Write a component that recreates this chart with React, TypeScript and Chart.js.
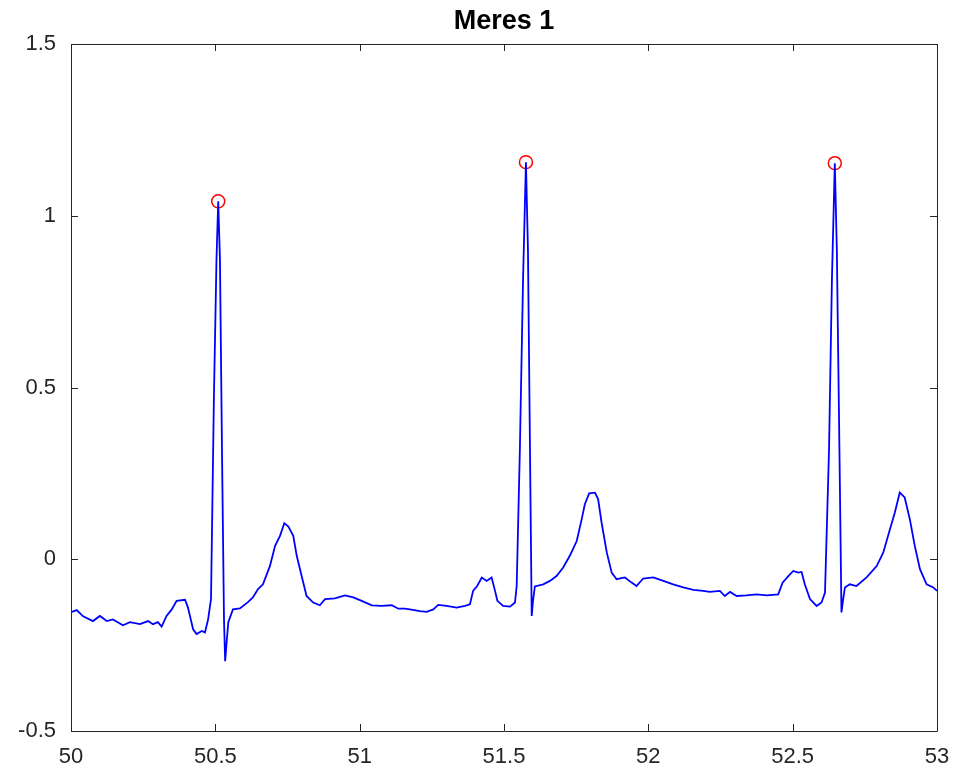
import React, { useEffect, useRef } from "react";
import { Chart, registerables } from "chart.js";

Chart.register(...registerables);

const chartTitle = "Meres 1";

// time (s)
const timeSec = [
  50.000, 50.020, 50.042, 50.076, 50.100, 50.124, 50.145, 50.180, 50.204, 50.239,
  50.267, 50.284, 50.301, 50.314, 50.331, 50.349, 50.366, 50.395, 50.405, 50.423,
  50.435, 50.453, 50.464, 50.475, 50.485, 50.495, 50.504, 50.510, 50.516, 50.523,
  50.530, 50.534, 50.540, 50.545, 50.561, 50.585, 50.613, 50.630, 50.648, 50.665,
  50.689, 50.707, 50.724, 50.739, 50.753, 50.770, 50.782, 50.799, 50.816, 50.839,
  50.862, 50.880, 50.914, 50.949, 50.978, 51.007, 51.042, 51.076, 51.111, 51.134,
  51.157, 51.174, 51.209, 51.232, 51.255, 51.272, 51.301, 51.336, 51.365, 51.382,
  51.393, 51.407, 51.423, 51.440, 51.457, 51.469, 51.477, 51.497, 51.521, 51.538,
  51.544, 51.555, 51.566, 51.576, 51.583, 51.590, 51.596, 51.600, 51.607, 51.636,
  51.659, 51.682, 51.705, 51.728, 51.752, 51.769, 51.780, 51.795, 51.815, 51.826,
  51.838, 51.856, 51.873, 51.890, 51.919, 51.942, 51.959, 51.982, 52.017, 52.052,
  52.086, 52.121, 52.156, 52.190, 52.213, 52.248, 52.265, 52.283, 52.306, 52.340,
  52.375, 52.410, 52.450, 52.465, 52.485, 52.502, 52.519, 52.531, 52.542, 52.560,
  52.583, 52.600, 52.612, 52.626, 52.636, 52.646, 52.653, 52.662, 52.669, 52.675,
  52.681, 52.698, 52.721, 52.756, 52.791, 52.814, 52.837, 52.854, 52.871, 52.888,
  52.906, 52.923, 52.941, 52.964, 52.987, 53.000,
];

// ECG amplitude
const ecgAmplitude = [
  -0.154, -0.148, -0.166, -0.180, -0.165, -0.180, -0.175, -0.192, -0.183, -0.189,
  -0.180, -0.189, -0.183, -0.196, -0.165, -0.146, -0.121, -0.118, -0.140, -0.204,
  -0.218, -0.209, -0.213, -0.175, -0.116, 0.466, 0.873, 1.042, 0.873, 0.320,
  -0.175, -0.297, -0.233, -0.183, -0.146, -0.143, -0.125, -0.111, -0.087, -0.073,
  -0.020, 0.039, 0.068, 0.105, 0.095, 0.068, 0.010, -0.049, -0.107, -0.126,
  -0.134, -0.116, -0.114, -0.105, -0.111, -0.121, -0.134, -0.136, -0.134, -0.144,
  -0.144, -0.146, -0.151, -0.153, -0.146, -0.133, -0.136, -0.141, -0.136, -0.131,
  -0.092, -0.078, -0.053, -0.063, -0.053, -0.092, -0.121, -0.136, -0.138, -0.126,
  -0.078, 0.320, 0.815, 1.156, 0.902, 0.320, -0.165, -0.125, -0.079, -0.073,
  -0.063, -0.049, -0.024, 0.010, 0.053, 0.116, 0.160, 0.192, 0.194, 0.175,
  0.107, 0.020, -0.039, -0.058, -0.053, -0.068, -0.078, -0.056, -0.053, -0.063,
  -0.073, -0.082, -0.089, -0.092, -0.095, -0.092, -0.107, -0.095, -0.107, -0.105,
  -0.102, -0.105, -0.102, -0.068, -0.049, -0.034, -0.039, -0.037, -0.073, -0.116,
  -0.136, -0.126, -0.097, 0.320, 0.815, 1.153, 0.902, 0.320, -0.155, -0.116,
  -0.082, -0.073, -0.078, -0.053, -0.020, 0.020, 0.087, 0.136, 0.194, 0.180,
  0.116, 0.039, -0.029, -0.073, -0.082, -0.092,
];

// detected R peaks
const peakTimes = [50.510, 51.576, 52.646];
const peakValues = [1.042, 1.156, 1.153];

const xTickValues = [50, 50.5, 51, 51.5, 52, 52.5, 53];
const xTickLabels = ["50", "50.5", "51", "51.5", "52", "52.5", "53"];
const yTickValues = [-0.5, 0, 0.5, 1, 1.5];
const yTickLabels = ["-0.5", "0", "0.5", "1", "1.5"];

const FONT = "'Liberation Sans', Arial, Helvetica, sans-serif";
const AXIS_COLOR = "#262626";

export default function App() {
  const canvasRef = useRef<HTMLCanvasElement | null>(null);

  useEffect(() => {
    const canvas = canvasRef.current;
    if (!canvas) return;

    const boxPlugin = {
      id: "matlabBox",
      afterDraw(chart: any) {
        const { ctx, chartArea } = chart;
        const { left, right, top, bottom } = chartArea;
        const xs = chart.scales.x;
        const ys = chart.scales.y;
        const tick = 7;
        ctx.save();
        ctx.strokeStyle = AXIS_COLOR;
        ctx.lineWidth = 1;
        ctx.beginPath();
        ctx.rect(Math.round(left) + 0.5, Math.round(top) + 0.5, Math.round(right - left), Math.round(bottom - top));
        xTickValues.forEach((v) => {
          const px = Math.round(xs.getPixelForValue(v)) + 0.5;
          ctx.moveTo(px, bottom);
          ctx.lineTo(px, bottom - tick);
          ctx.moveTo(px, top);
          ctx.lineTo(px, top + tick);
        });
        yTickValues.forEach((v) => {
          const py = Math.round(ys.getPixelForValue(v)) + 0.5;
          ctx.moveTo(left, py);
          ctx.lineTo(left + tick, py);
          ctx.moveTo(right, py);
          ctx.lineTo(right - tick, py);
        });
        ctx.stroke();
        ctx.restore();
      },
    };

    const chart = new Chart(canvas, {
      type: "line",
      data: {
        datasets: [
          {
            label: "ECG",
            data: timeSec.map((t, i) => ({ x: t, y: ecgAmplitude[i] })),
            borderColor: "#0000ff",
            borderWidth: 1.8,
            pointRadius: 0,
            tension: 0,
            fill: false,
          },
          {
            type: "scatter",
            label: "R peaks",
            data: peakTimes.map((t, i) => ({ x: t, y: peakValues[i] })),
            showLine: false,
            pointRadius: 6.5,
            pointStyle: "circle",
            pointBorderColor: "#ff0000",
            pointBackgroundColor: "rgba(0,0,0,0)",
            pointBorderWidth: 1.5,
          } as any,
        ],
      },
      options: {
        animation: false,
        responsive: false,
        devicePixelRatio: 1,
        layout: { padding: { left: 0, right: 18, top: 0, bottom: 0 } },
        plugins: {
          legend: { display: false },
          tooltip: { enabled: false },
          title: {
            display: true,
            text: chartTitle,
            fullSize: false,
            color: "#000000",
            font: { family: FONT, size: 27, weight: "bold" },
            padding: { top: 5, bottom: 6.6 },
          },
        },
        scales: {
          x: {
            type: "linear",
            min: 50,
            max: 53,
            grid: { display: false, drawTicks: false },
            border: { display: false },
            afterBuildTicks: (s: any) => {
              s.ticks = xTickValues.map((v) => ({ value: v }));
            },
            afterFit: (s: any) => {
              s.height = 42;
              s.paddingLeft = 0;
              s.paddingRight = 0;
            },
            ticks: {
              autoSkip: false,
              maxRotation: 0,
              padding: 13,
              color: AXIS_COLOR,
              font: { family: FONT, size: 22 },
              callback: (v: any) => xTickLabels[xTickValues.indexOf(Number(v))],
            },
          },
          y: {
            type: "linear",
            min: -0.5,
            max: 1.5,
            grid: { display: false, drawTicks: false },
            border: { display: false },
            afterBuildTicks: (s: any) => {
              s.ticks = yTickValues.map((v) => ({ value: v }));
            },
            afterFit: (s: any) => {
              s.width = 71;
              s.paddingTop = 0;
              s.paddingBottom = 0;
            },
            ticks: {
              autoSkip: false,
              padding: 15,
              color: AXIS_COLOR,
              font: { family: FONT, size: 22 },
              callback: (v: any) => yTickLabels[yTickValues.indexOf(Number(v))],
            },
          },
        },
      },
      plugins: [boxPlugin],
    } as any);

    return () => chart.destroy();
  }, []);

  return (
    <div style={{ position: "fixed", left: 0, top: 0, width: 955, height: 773, background: "#ffffff" }}>
      <canvas ref={canvasRef} width={955} height={773} />
    </div>
  );
}
